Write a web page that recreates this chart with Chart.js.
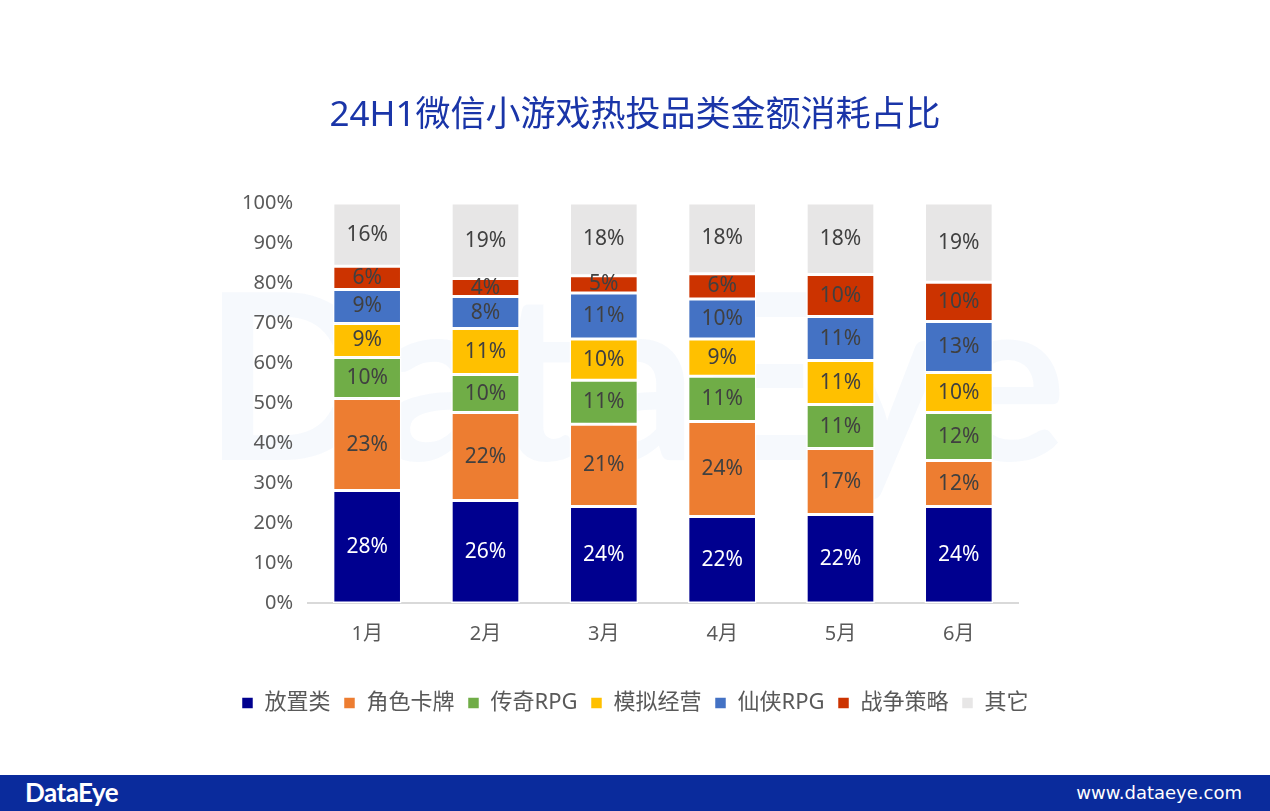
<!DOCTYPE html>
<html>
<head>
<meta charset="utf-8">
<script src="https://cdn.jsdelivr.net/npm/chart.js@4.4.1/dist/chart.umd.min.js"></script>
<style>
  body { margin:0; background:#fff; width:1270px; height:811px; overflow:hidden; font-family:"Noto Sans","Noto Sans CJK SC",sans-serif; }
  #wrap { position:absolute; left:0; top:0; width:1270px; height:775px; }
  #footer { position:absolute; left:0; top:775px; width:1270px; height:36px; background:#0a2b9c; }
  #logo { position:absolute; left:25px; top:1px; color:#fff; font:bold 26px "Lato","Noto Sans",sans-serif; letter-spacing:-0.5px; }
  #site { position:absolute; right:28px; top:7px; color:#fff; font:18px "DejaVu Sans",sans-serif; }
</style>
</head>
<body>
<div id="wrap"><canvas id="bar-chart"></canvas></div>
<div id="footer"><span id="logo">DataEye</span><span id="site">www.dataeye.com</span></div>
<script>
var months = ['1月', '2月', '3月', '4月', '5月', '6月'];

// 柱高（估计值）
var idle     = [28.1, 25.6, 24.1, 21.6, 22.1, 24.1];
var card     = [23.0, 22.0, 20.6, 23.8, 16.5, 11.5];
var legend   = [10.3, 9.5, 11.0, 11.3, 11.0, 12.0];
var sim      = [8.5, 11.5, 10.3, 9.3, 11.0, 10.0];
var xianxia  = [8.5, 8.0, 11.5, 10.0, 11.0, 12.8];
var war      = [5.8, 4.5, 4.3, 6.3, 10.5, 9.8];
var other    = [15.8, 18.9, 18.2, 17.7, 17.9, 19.8];

// 图上的标签
var idleLbl    = [28, 26, 24, 22, 22, 24];
var cardLbl    = [23, 22, 21, 24, 17, 12];
var legendLbl  = [10, 10, 11, 11, 11, 12];
var simLbl     = [9, 11, 10, 9, 11, 10];
var xianxiaLbl = [9, 8, 11, 10, 11, 13];
var warLbl     = [6, 4, 5, 6, 10, 10];
var otherLbl   = [16, 19, 18, 18, 18, 19];

var yTicks = [0, 10, 20, 30, 40, 50, 60, 70, 80, 90, 100];

var fontCn = '"Noto Sans","Noto Sans CJK SC",sans-serif';

function ds(label, data, lbl, color, txt) {
  return {
    label: label,
    data: data,
    labels: lbl,
    txtColor: txt || '#404040',
    backgroundColor: color,
    borderColor: '#ffffff',
    borderWidth: 1.5,
    borderSkipped: false,
    barPercentage: 0.58,
    categoryPercentage: 1
  };
}

// 水印
var watermark = {
  id: 'watermark',
  beforeDraw: function(chart) {
    var ctx = chart.ctx;
    ctx.save();
    ctx.fillStyle = 'rgba(40,120,210,0.045)';
    ctx.font = 'bold 232px "Lato","Noto Sans",sans-serif';
    ctx.textAlign = 'center';
    ctx.textBaseline = 'middle';
    ctx.fillText('DataEye', 635, 385);
    ctx.restore();
  }
};

// 数据标签
var barLabels = {
  id: 'barLabels',
  afterDatasetsDraw: function(chart) {
    var ctx = chart.ctx;
    ctx.save();
    ctx.font = '21px ' + fontCn;
    ctx.textAlign = 'center';
    ctx.textBaseline = 'middle';
    chart.data.datasets.forEach(function(d, i) {
      var meta = chart.getDatasetMeta(i);
      meta.data.forEach(function(bar, j) {
        var cy = (bar.y + bar.base) / 2;
        ctx.fillStyle = d.txtColor;
        ctx.fillText(d.labels[j] + '%', bar.x, cy);
      });
    });
    ctx.restore();
  }
};

var mychart = document.getElementById('bar-chart');
var myBarChart = new Chart(mychart, {
  type: 'bar',
  data: {
    labels: months,
    datasets: [
      ds('放置类', idle, idleLbl, '#00008f', '#ffffff'),
      ds('角色卡牌', card, cardLbl, '#ed7d31'),
      ds('传奇RPG', legend, legendLbl, '#70ad47'),
      ds('模拟经营', sim, simLbl, '#ffc000'),
      ds('仙侠RPG', xianxia, xianxiaLbl, '#4472c4'),
      ds('战争策略', war, warLbl, '#cc3300'),
      ds('其它', other, otherLbl, '#e7e6e6')
    ]
  },
  options: {
    responsive: true,
    maintainAspectRatio: false,
    animation: false,
    layout: { padding: { top: 70, left: 150, right: 150, bottom: 51 } },
    plugins: {
      title: {
        display: true,
        text: '24H1微信小游戏热投品类金额消耗占比',
        color: '#1a35a8',
        font: { size: 35, family: fontCn, weight: 'normal' },
        padding: { top: 25, bottom: 66 }
      },
      legend: {
        position: 'bottom',
        labels: {
          boxWidth: 12,
          boxHeight: 12,
          padding: 13,
          color: '#595959',
          font: { size: 22, family: fontCn }
        }
      },
      tooltip: { enabled: false }
    },
    scales: {
      x: {
        stacked: true,
        grid: { display: false },
        border: { color: '#d9d9d9', width: 2 },
        ticks: { color: '#595959', font: { size: 20, family: fontCn }, padding: 11 },
        afterFit: function(axis) { axis.height += 22; }
      },
      y: {
        stacked: true,
        min: 0,
        max: 100,
        afterBuildTicks: function(axis) {
          axis.ticks = yTicks.map(function(v) { return { value: v }; });
        },
        grid: { display: false },
        border: { display: false },
        ticks: {
          color: '#595959',
          font: { size: 20, family: fontCn },
          padding: 7,
          callback: function(v) { return v + '%'; }
        },
        afterFit: function(axis) { axis.width = 308 - 150; }
      },
      yRight: {
        position: 'right',
        display: true,
        grid: { display: false },
        border: { display: false },
        ticks: { display: false },
        afterFit: function(axis) { axis.width = 1270 - 1018 - 150; }
      }
    }
  },
  plugins: [watermark, barLabels]
});
</script>
</body>
</html>
